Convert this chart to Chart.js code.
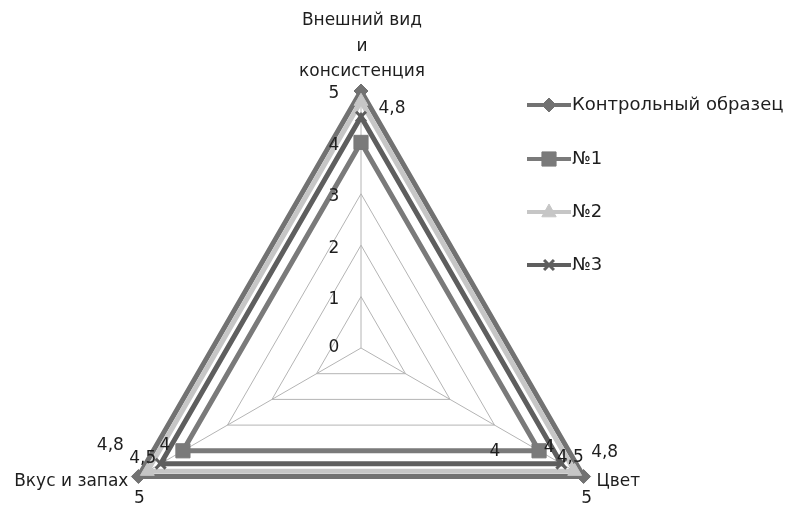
<!DOCTYPE html>
<html>
<head>
<meta charset="utf-8">
<script src="https://cdn.jsdelivr.net/npm/chart.js"></script>
<style>
html, body { margin: 0; padding: 0; background: #fff; overflow: hidden; }
#wrap { width: 790px; height: 505px; overflow: hidden; }
</style>
</head>
<body>
<div id="wrap"><canvas id="chart" width="790" height="620"></canvas></div>
<script>
// data
const axisLabels = [['Внешний вид', 'и', 'консистенция'], 'Цвет', 'Вкус и запах'];
const seriesNames = ['Контрольный образец', '№1', '№2', '№3'];
const control = [5, 5, 5];
const sample1 = [4, 4, 4];
const sample2 = [4.8, 4.8, 4.8];
const sample3 = [4.5, 4.5, 4.5];
const tickValues = [0, 1, 2, 3, 4, 5];

const textColor = '#1e1e1e';
const font = '17px "DejaVu Sans", Verdana, sans-serif';
const legendFont = '18px "DejaVu Sans", Verdana, sans-serif';

// where Excel put the value labels, relative to each point (null = not shown)
const labelOffsets = [
    [null, [3, 22], [1, 22]],
    [[134, 309], [10, -3], [-18, -5]],
    [[31, 7], [30, -19], [-37, -26]],
    [null, [9, -6], [-18, -5]]
];

function makeSet(label, data, color, style, radius, order) {
    return {
        label: label,
        data: data,
        borderColor: color,
        backgroundColor: color,
        borderWidth: 5,
        fill: false,
        pointStyle: style,
        pointRadius: radius,
        pointBorderColor: color,
        pointBackgroundColor: color,
        pointBorderWidth: style === 'crossRot' ? 3 : 1,
        order: order
    };
}

const dataSets = [
    makeSet(seriesNames[0], control, '#727272', 'rectRot', 7, 3),
    makeSet(seriesNames[1], sample1, '#7a7a7a', 'rect', 10, 2),
    makeSet(seriesNames[2], sample2, '#c6c6c6', 'triangle', 8, 1),
    makeSet(seriesNames[3], sample3, '#5e5e5e', 'crossRot', 7, 0)
];

function drawMarker(ctx, ds, x, y) {
    const r = ds.pointRadius;
    ctx.save();
    ctx.fillStyle = ds.pointBackgroundColor;
    ctx.strokeStyle = ds.pointBorderColor;
    ctx.lineWidth = ds.pointBorderWidth;
    ctx.beginPath();
    if (ds.pointStyle === 'rectRot') {
        ctx.moveTo(x, y - r); ctx.lineTo(x + r, y); ctx.lineTo(x, y + r); ctx.lineTo(x - r, y);
        ctx.closePath(); ctx.fill(); ctx.stroke();
    } else if (ds.pointStyle === 'rect') {
        const s = r * Math.SQRT1_2;
        ctx.rect(x - s, y - s, 2 * s, 2 * s); ctx.fill(); ctx.stroke();
    } else if (ds.pointStyle === 'triangle') {
        ctx.moveTo(x, y - r); ctx.lineTo(x + r * 0.9, y + r * 0.6); ctx.lineTo(x - r * 0.9, y + r * 0.6);
        ctx.closePath(); ctx.fill(); ctx.stroke();
    } else {
        const s = r * Math.SQRT1_2;
        ctx.moveTo(x - s, y - s); ctx.lineTo(x + s, y + s);
        ctx.moveTo(x + s, y - s); ctx.lineTo(x - s, y + s);
        ctx.stroke();
    }
    ctx.restore();
}

const textPlugin = {
    id: 'texts',
    afterDraw(chart) {
        const ctx = chart.ctx;
        const scale = chart.scales.r;
        ctx.save();
        ctx.font = font;
        ctx.fillStyle = textColor;
        ctx.textBaseline = 'middle';

        // axis tick labels left of the vertical axis
        ctx.textAlign = 'center';
        tickValues.forEach(function (v) {
            const p = scale.getPointPositionForValue(0, v);
            ctx.fillText(String(v), p.x - 27, p.y + (v === 0 ? 0 : 3));
        });

        // category labels
        const top = scale.getPointPositionForValue(0, 5);
        axisLabels[0].forEach(function (line, i) {
            ctx.fillText(line, top.x + 1, top.y - 70 + i * 25.5);
        });
        const right = scale.getPointPositionForValue(1, 5);
        ctx.textAlign = 'left';
        ctx.fillText(axisLabels[1], right.x + 13, right.y + 5);
        const left = scale.getPointPositionForValue(2, 5);
        ctx.textAlign = 'right';
        ctx.fillText(axisLabels[2], left.x - 10, left.y + 5);

        // value labels
        ctx.textAlign = 'center';
        chart.data.datasets.forEach(function (ds, si) {
            ds.data.forEach(function (v, i) {
                const off = labelOffsets[si][i];
                if (!off) return;
                const p = scale.getPointPositionForValue(i, v);
                ctx.fillText(String(v).replace('.', ','), p.x + off[0], p.y + off[1]);
            });
        });

        // legend
        const rows = [105, 159, 212, 265];
        ctx.font = legendFont;
        chart.data.datasets.forEach(function (ds, si) {
            const y = rows[si];
            ctx.strokeStyle = ds.borderColor;
            ctx.lineWidth = 4;
            ctx.beginPath();
            ctx.moveTo(527, y);
            ctx.lineTo(571, y);
            ctx.stroke();
            drawMarker(ctx, ds, 549, y);
            ctx.fillStyle = textColor;
            ctx.textAlign = 'left';
            ctx.fillText(ds.label, 572, y);
        });
        ctx.restore();
    }
};

const myChart = new Chart(document.getElementById('chart'), {
    type: 'radar',
    data: {
        labels: axisLabels,
        datasets: dataSets
    },
    options: {
        responsive: false,
        animation: false,
        layout: {
            padding: { left: 104, right: 172, top: 91, bottom: 15 }
        },
        elements: {
            line: { tension: 0 }
        },
        scales: {
            r: {
                min: 0,
                max: 5,
                ticks: { display: false, stepSize: 1 },
                pointLabels: { display: false },
                grid: { color: '#b4b4b4', lineWidth: 1 },
                angleLines: { color: '#b4b4b4', lineWidth: 1 }
            }
        },
        plugins: {
            legend: { display: false },
            tooltip: { enabled: false }
        }
    },
    plugins: [textPlugin]
});
</script>
</body>
</html>
